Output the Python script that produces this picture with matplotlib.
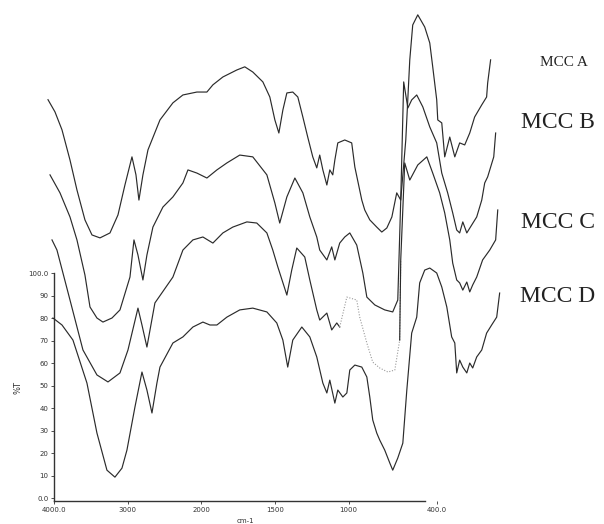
import numpy as np
import matplotlib.pyplot as plt

# Spektren (Wellenzahl in cm-1, %T)
wn_a = [4000, 3920, 3839, 3747, 3667, 3575, 3494, 3402, 3287, 3195, 3115, 3034, 2988, 2954,
        2908, 2850, 2712, 2563, 2448, 2287, 2172, 2103, 1994, 1914, 1868, 1822, 1764, 1724,
        1695, 1672, 1649, 1626, 1592, 1563, 1534, 1506, 1477, 1454, 1437, 1419, 1396, 1379,
        1362, 1350, 1333, 1293, 1253, 1235, 1195, 1178, 1149, 1109, 1080, 1051, 1022, 994,
        971, 942, 919, 902, 873, 833, 804, 787, 764, 758, 735, 718, 689, 660, 632, 603, 574,
        546, 505, 477, 471, 454]
t_a = [67, 61.6, 53.6, 40.2, 26.9, 13.6, 6.9, 5.6, 7.8, 15.8, 29.1, 41.6, 33.6, 22.4,
       33.6, 44.7, 58, 65.6, 69.1, 70.4, 70.4, 73.6, 77.1, 80.2, 81.6, 79.3, 74.9, 68.2,
       58, 52.2, 62.4, 70, 70.4, 68.2, 59.3, 50.4, 41.6, 36.7, 42.4, 35.8, 29.1, 35.8,
       33.6, 40.2, 47.8, 49.1, 47.8, 37.1, 22.4, 18, 13.6, 10.4, 8.2, 10, 14.9, 25.6,
       22.4, 49.1, 84.7, 100.2, 104.7, 99.3, 92.2, 81.6, 66.9, 58, 56.7, 41.6, 50.4, 41.6,
       47.8, 46.9, 52.2, 59.3, 64.7, 68.2, 74.4, 84.7]

wn_b = [3977, 3862, 3747, 3667, 3575, 3517, 3437, 3368, 3264, 3172, 3057, 3011, 2965, 2908,
        2862, 2793, 2678, 2563, 2448, 2390, 2287, 2172, 2057, 1971, 1897, 1822, 1741, 1695,
        1667, 1626, 1580, 1534, 1494, 1454, 1437, 1396, 1368, 1350, 1322, 1293, 1264, 1224,
        1189, 1166, 1120, 1063, 1017, 988, 971, 954, 930, 908, 879, 844, 804, 764, 735, 701,
        672, 649, 632, 614, 591, 563, 534, 505, 488, 471, 436, 425]
t_b = [73.6, 65.6, 54.9, 44.7, 29.1, 14.9, 10, 8.2, 10, 13.6, 28.2, 44.7, 38, 26.9,
       38, 50.4, 59.3, 63.8, 70, 75.8, 74.4, 72.2, 75.8, 78.9, 82.4, 81.6, 73.6, 61.1,
       52.2, 63.8, 72.2, 65.6, 54.9, 46, 40.2, 35.8, 41.6, 35.8, 43.3, 46, 47.8, 42.4,
       30, 19.3, 15.8, 13.6, 12.7, 18, 62.4, 114.9, 103.3, 106.9, 109.1, 103.8, 94.9, 87.8,
       74.4, 65.6, 56.7, 49.1, 47.8, 52.7, 47.8, 51.3, 54.9, 62.4, 70, 72.7, 81.6, 92.2]

wn_c = [3954, 3897, 3747, 3598, 3437, 3310, 3172, 3080, 2965, 2919, 2862, 2770, 2563, 2448,
        2333, 2218, 2103, 1994, 1937, 1856, 1799, 1741, 1707, 1678, 1626, 1598, 1569, 1523,
        1494, 1454, 1437, 1396, 1368, 1339, 1322, 1281, 1224, 1207, 1166, 1132, 1092, 1045,
        1005, 977, 971, 948, 919, 873, 821, 787, 747, 718, 689, 672, 649, 632, 614, 591, 574,
        557, 534, 500, 459, 425, 413]
t_c = [74.7, 70.2, 48, 25.8, 14.7, 11.6, 15.6, 25.8, 44.4, 36.9, 27.1, 46.7, 58.2, 70.2,
       74.7, 76, 73.3, 77.8, 80.4, 82.7, 82.2, 77.8, 70.2, 62.7, 50.2, 61.3, 71.1, 67.1,
       56.9, 43.6, 39.1, 42.2, 34.7, 37.8, 36, 49.3, 48, 40.4, 28.9, 20.4, 17.8, 16,
       16.9, 30.2, 65.8, 108.9, 101.3, 108, 111.6, 104.4, 95.6, 86.7, 74.7, 64.4, 56.9,
       55.6, 52.4, 56, 51.6, 54.7, 58.2, 65.8, 70.2, 74.7, 88]

wn_d = [3943, 3839, 3713, 3552, 3437, 3322, 3230, 3149, 3092, 3000, 2919, 2862, 2804, 2747,
        2712, 2563, 2448, 2333, 2218, 2137, 2057, 1971, 1897, 1822, 1741, 1684, 1649, 1621,
        1592, 1540, 1494, 1454, 1419, 1396, 1379, 1350, 1333, 1304, 1281, 1264, 1235, 1195,
        1166, 1149, 1132, 1109, 1092, 1063, 1034, 1017, 988, 959, 936, 908, 879, 862, 833,
        804, 764, 735, 706, 678, 660, 649, 632, 614, 591, 574, 557, 534, 505, 477, 448, 419,
        402]
t_d = [80, 76.9, 70.2, 51.1, 28.9, 12.4, 9.3, 13.3, 21.3, 40.4, 56, 48, 37.8, 51.1,
       58.2, 68.9, 71.6, 76, 78.2, 76.9, 76.9, 80.4, 83.6, 84.4, 82.7, 77.8, 70.2, 58.2,
       70.2, 76, 71.6, 62.7, 51.1, 46.7, 52.4, 42.2, 48, 44.9, 46.7, 56.9, 59.1, 58.2,
       53.8, 44.9, 34.7, 28.9, 25.8, 21.3, 15.6, 12.4, 17.8, 24.4, 48, 73.3, 80.4, 95.6,
       101.3, 102.2, 100, 93.8, 84.9, 71.6, 68.9, 55.6, 61.3, 58.2, 55.6, 60, 57.8, 62.7,
       65.8, 73.3, 76.9, 80.4, 91.1]

namen = ["MCC A", "MCC B", "MCC C", "MCC D"]
versatz = [110, 70, 40, 0]   # Verschiebung der Kurven (gestapelt)

x_ticks = [4000, 3000, 2000, 1500, 1000, 400]
x_labels = ["4000.0", "3000", "2000", "1500", "1000", "400.0"]
y_ticks = [0, 10, 20, 30, 40, 50, 60, 70, 80, 90, 100]
y_labels = ["0.0", "10", "20", "30", "40", "50", "60", "70", "80", "90", "100.0"]


# Achse mit Maßstabswechsel bei 2000 cm-1 (unterhalb doppelt gedehnt)
def vor(w):
    w = np.asarray(w, dtype=float)
    return np.where(w >= 2000, w - 4000, 2 * w - 6000)


def zurueck(u):
    u = np.asarray(u, dtype=float)
    return np.where(u >= -2000, u + 4000, (u + 6000) / 2)


fig = plt.figure(figsize=(6.04, 5.24), dpi=100)

# Rahmen mit Skala
ax = fig.add_axes([54 / 604, 23 / 524, 383 / 604, 228 / 524])
ax.set_xscale('function', functions=(vor, zurueck))
ax.set_xlim(4000, 400)
ax.set_ylim(-1.3, 100)
ax.set_facecolor('none')
for s in ['top', 'right']:
    ax.spines[s].set_visible(False)
ax.spines['bottom'].set_bounds(4000, 480)
for s in ['left', 'bottom']:
    ax.spines[s].set_linewidth(1.0)
    ax.spines[s].set_color('#333333')
ax.set_xticks(x_ticks)
ax.set_xticklabels(x_labels)
ax.set_yticks(y_ticks)
ax.set_yticklabels(y_labels)
ax.tick_params(direction='out', length=2, width=0.6, labelsize=5, pad=2, colors='#333333')
ax.set_xlabel("cm-1", fontsize=5, labelpad=4, color='#333333')
ax.set_ylabel("%T", fontsize=6, labelpad=4, color='#333333')

# Kurven
ax2 = fig.add_axes([48 / 604, 23 / 524, 452 / 604, 228 / 524])
ax2.set_xscale('function', functions=(vor, zurueck))
ax2.set_xlim(4000, 400)
ax2.set_ylim(-1.3, 100)
ax2.axis('off')

kurven = [(wn_a, t_a), (wn_b, t_b), (wn_c, t_c), (wn_d, t_d)]
for i, ((w, t), off) in enumerate(zip(kurven, versatz)):
    w = np.array(w)
    y = np.array(t) + off
    if i == 2:
        # im Original blass gedruckter Abschnitt von MCC C
        blass = (w <= 1322) & (w >= 971)
        oben = w >= 1322
        unten = w <= 977
        ax2.plot(w[oben], y[oben], color='#2b2b2b', lw=0.85, clip_on=False)
        ax2.plot(w[blass], y[blass], color='#9a9a9a', lw=0.8, ls=(0, (1, 1.5)),
                 clip_on=False)
        ax2.plot(w[unten], y[unten], color='#2b2b2b', lw=0.85, clip_on=False)
    else:
        ax2.plot(w, y, color='#2b2b2b', lw=0.85, clip_on=False)

# Beschriftung rechts
fig.text(564 / 604, 1 - 62 / 524, namen[0], family='Liberation Serif', fontsize=11,
         ha='center', va='center', color='#222222')
for name, y in zip(namen[1:], [123, 222, 297]):
    fig.text(558 / 604, 1 - y / 524, name, family='Liberation Serif', fontsize=17,
             ha='center', va='center', color='#222222')

fig.savefig("out.png", dpi=100)
